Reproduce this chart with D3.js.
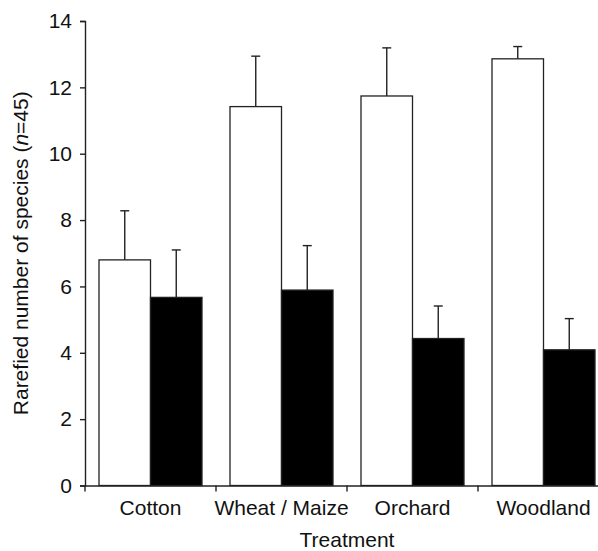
<!DOCTYPE html>
<html>
<head>
<meta charset="utf-8">
<script src="https://cdn.jsdelivr.net/npm/d3@7"></script>
<style>
  body { margin: 0; background: #fff; }
  text { font-family: "Liberation Sans", Arial, Helvetica, sans-serif; fill: #111; }
</style>
</head>
<body>
<div id="chart"></div>
<script>
// data
const treatments = ["Cotton", "Wheat / Maize", "Orchard", "Woodland"];
const openMeans = [6.80, 11.42, 11.74, 12.86];
const openErr = [1.48, 1.52, 1.45, 0.37];
const filledMeans = [5.67, 5.89, 4.43, 4.09];
const filledErr = [1.43, 1.34, 0.98, 0.94];
const yTicks = [0, 2, 4, 6, 8, 10, 12, 14];

const W = 598, H = 551;
const ink = "#222";
const fs = "21px";

const svg = d3.select("#chart")
    .append("svg")
    .attr("width", W)
    .attr("height", H);

// scales
const x = d3.scaleBand()
    .domain(treatments)
    .range([85, 609])
    .paddingInner(0)
    .paddingOuter(0);

const xSub = d3.scaleBand()
    .domain(["open", "filled"])
    .range([14, x.bandwidth() - 14]);

const y = d3.scaleLinear()
    .domain([0, 14])
    .range([485.5, 21]);

// rows for drawing
const rows = [];
treatments.forEach((t, i) => {
    rows.push({t: t, kind: "open", v: openMeans[i], e: openErr[i]});
    rows.push({t: t, kind: "filled", v: filledMeans[i], e: filledErr[i]});
});

// error bars (drawn first, bars sit over the stem base)
const capW = 9;
const err = svg.append("g").attr("stroke", ink).attr("stroke-width", 1.4);
err.selectAll(".stem")
    .data(rows)
    .enter()
    .append("line")
    .attr("x1", d => x(d.t) + xSub(d.kind) + xSub.bandwidth() / 2)
    .attr("x2", d => x(d.t) + xSub(d.kind) + xSub.bandwidth() / 2)
    .attr("y1", d => y(d.v))
    .attr("y2", d => y(d.v + d.e));
err.selectAll(".cap")
    .data(rows)
    .enter()
    .append("line")
    .attr("x1", d => x(d.t) + xSub(d.kind) + xSub.bandwidth() / 2 - capW / 2)
    .attr("x2", d => x(d.t) + xSub(d.kind) + xSub.bandwidth() / 2 + capW / 2)
    .attr("y1", d => y(d.v + d.e))
    .attr("y2", d => y(d.v + d.e));

// bars
svg.append("g")
    .selectAll("rect")
    .data(rows)
    .enter()
    .append("rect")
    .attr("x", d => x(d.t) + xSub(d.kind))
    .attr("y", d => y(d.v))
    .attr("width", xSub.bandwidth())
    .attr("height", d => y(0) - y(d.v))
    .attr("fill", d => d.kind === "open" ? "#fff" : "#000")
    .attr("stroke", ink)
    .attr("stroke-width", 1.3);

// y axis
const yAxis = svg.append("g")
    .attr("transform", "translate(85,0)")
    .call(d3.axisLeft(y).tickValues(yTicks).tickSize(5).tickPadding(8).tickFormat(d3.format("d")));
yAxis.selectAll("text").attr("font-size", fs).attr("fill", "#111");
yAxis.selectAll("line, path").attr("stroke", ink).attr("stroke-width", 1.4);

// x axis: labels centred in band, ticks on band edges
const xAxis = svg.append("g")
    .attr("transform", `translate(0,${y(0)})`)
    .call(d3.axisBottom(x).tickSizeInner(0).tickSizeOuter(0).tickPadding(15));
xAxis.selectAll(".tick line").remove();
xAxis.select(".domain").attr("stroke", ink).attr("stroke-width", 1.4);
xAxis.selectAll("text").attr("font-size", fs).attr("fill", "#111");
xAxis.selectAll(".edge")
    .data(treatments)
    .enter()
    .append("line")
    .attr("x1", d => x(d))
    .attr("x2", d => x(d))
    .attr("y1", 0)
    .attr("y2", 6)
    .attr("stroke", ink)
    .attr("stroke-width", 1.4);

// axis titles
svg.append("text")
    .attr("x", 347)
    .attr("y", 547)
    .attr("text-anchor", "middle")
    .attr("font-size", fs)
    .text("Treatment");

const yt = svg.append("text")
    .attr("transform", `translate(28,${(y(0) + y(14)) / 2}) rotate(-90)`)
    .attr("text-anchor", "middle")
    .attr("font-size", fs);
yt.append("tspan").text("Rarefied number of species (");
yt.append("tspan").attr("font-style", "italic").text("n");
yt.append("tspan").text("=45)");
</script>
</body>
</html>
